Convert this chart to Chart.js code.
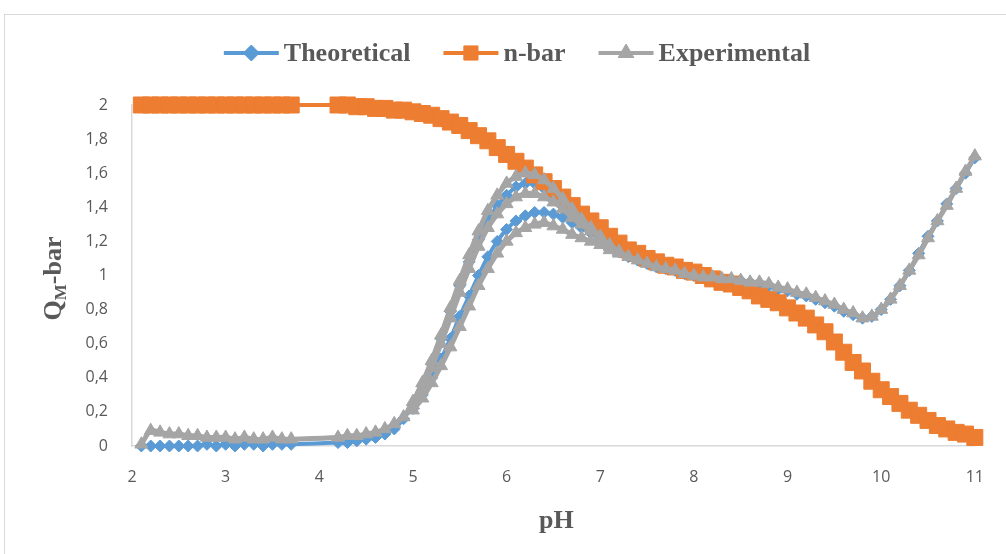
<!DOCTYPE html>
<html>
<head>
<meta charset="utf-8">
<script src="https://cdn.jsdelivr.net/npm/chart.js@4.4.1/dist/chart.umd.min.js"></script>
<style>
    html, body { margin: 0; padding: 0; background: #fff; overflow: hidden; }
    #wrap { width: 1006px; height: 554px; }
</style>
</head>
<body>
<div id="wrap"><canvas id="qmChart" width="1006" height="554"></canvas></div>
<script>
// pH values of the main run
const phMain = [
    2.1, 2.2, 2.3, 2.4, 2.5, 2.6, 2.7, 2.8, 2.9, 3.0, 3.1, 3.2, 3.3, 3.4, 3.5, 3.6, 3.7,
    4.2, 4.3, 4.4, 4.5, 4.6, 4.7, 4.8, 4.9,
    5.0, 5.1, 5.2, 5.3, 5.4, 5.5, 5.6, 5.7, 5.8, 5.9,
    6.0, 6.1, 6.2, 6.3, 6.4, 6.5, 6.6, 6.7, 6.8, 6.9,
    7.0, 7.1, 7.2, 7.3, 7.4, 7.5, 7.6, 7.7, 7.8, 7.9,
    8.0, 8.1, 8.2, 8.3, 8.4, 8.5, 8.6, 8.7, 8.8, 8.9,
    9.0, 9.1, 9.2, 9.3, 9.4, 9.5, 9.6, 9.7, 9.8, 9.9,
    10.0, 10.1, 10.2, 10.3, 10.4, 10.5, 10.6, 10.7, 10.8, 10.9,
    11.0
];

const theoretical = [
    0.00, 0.00, 0.00, 0.00, 0.00, 0.00, 0.00, 0.01, 0.00, 0.01, 0.00, 0.01, 0.01, 0.00, 0.01, 0.01, 0.01,
    0.02, 0.02, 0.03, 0.04, 0.05, 0.07, 0.10, 0.16,
    0.24, 0.35, 0.48, 0.63, 0.79, 0.94, 1.08, 1.21, 1.32, 1.41,
    1.47, 1.52, 1.54, 1.54, 1.51, 1.47, 1.42, 1.36, 1.31, 1.26,
    1.22, 1.17, 1.14, 1.11, 1.09, 1.07, 1.05, 1.04, 1.03, 1.01,
    1.00, 0.99, 0.99, 0.98, 0.97, 0.97, 0.96, 0.95, 0.94, 0.92,
    0.91, 0.89, 0.88, 0.86, 0.84, 0.82, 0.79, 0.77, 0.75, 0.76,
    0.80, 0.86, 0.94, 1.03, 1.13, 1.23, 1.32, 1.42, 1.51, 1.60,
    1.69
];

const nBar = [
    2.00, 2.00, 2.00, 2.00, 2.00, 2.00, 2.00, 2.00, 2.00, 2.00, 2.00, 2.00, 2.00, 2.00, 2.00, 2.00, 2.00,
    2.00, 2.00, 1.99, 1.99, 1.98, 1.98, 1.97, 1.97,
    1.96, 1.95, 1.94, 1.92, 1.90, 1.88, 1.85, 1.82, 1.79, 1.75,
    1.71, 1.67, 1.63, 1.59, 1.55, 1.51, 1.46, 1.41, 1.36, 1.32,
    1.28, 1.23, 1.19, 1.15, 1.13, 1.10, 1.08, 1.06, 1.05, 1.03,
    1.02, 1.00, 0.98, 0.96, 0.95, 0.93, 0.91, 0.88, 0.86, 0.84,
    0.81, 0.78, 0.75, 0.71, 0.67, 0.61, 0.55, 0.49, 0.44, 0.38,
    0.33, 0.29, 0.25, 0.21, 0.18, 0.15, 0.12, 0.10, 0.08, 0.07,
    0.05
];

const experimental = [
    0.01, 0.09, 0.08, 0.07, 0.07, 0.06, 0.06, 0.05, 0.05, 0.05, 0.04, 0.05, 0.04, 0.04, 0.05, 0.04, 0.04,
    0.05, 0.06, 0.06, 0.07, 0.08, 0.10, 0.13, 0.17,
    0.26, 0.37, 0.50, 0.65, 0.81, 0.97, 1.12, 1.26, 1.38, 1.47,
    1.54, 1.58, 1.60, 1.59, 1.56, 1.51, 1.45, 1.39, 1.33, 1.28,
    1.23, 1.18, 1.14, 1.11, 1.09, 1.07, 1.05, 1.04, 1.03, 1.01,
    1.00, 0.99, 0.99, 0.98, 0.98, 0.97, 0.96, 0.96, 0.95, 0.93,
    0.92, 0.90, 0.89, 0.87, 0.85, 0.83, 0.80, 0.78, 0.75, 0.76,
    0.80, 0.86, 0.94, 1.03, 1.12, 1.22, 1.32, 1.41, 1.51, 1.61,
    1.70
];

// second passes through the complexation hump
const phHump = [
    5.0, 5.1, 5.2, 5.3, 5.4, 5.5, 5.6, 5.7, 5.8, 5.9,
    6.0, 6.1, 6.2, 6.3, 6.4, 6.5, 6.6, 6.7, 6.8, 6.9,
    7.0, 7.1, 7.2
];
const theoreticalLow = [
    0.22, 0.30, 0.40, 0.51, 0.63, 0.76, 0.88, 1.00, 1.11, 1.20,
    1.27, 1.32, 1.35, 1.37, 1.37, 1.36, 1.34, 1.31, 1.28, 1.25,
    1.21, 1.17, 1.14
];
const experimentalMid = [
    0.24, 0.34, 0.46, 0.60, 0.75, 0.90, 1.04, 1.17, 1.28, 1.36,
    1.42, 1.46, 1.48, 1.48, 1.46, 1.43, 1.39, 1.34, 1.30, 1.26,
    1.22, 1.17, 1.14
];
const experimentalLow = [
    0.21, 0.28, 0.37, 0.47, 0.58, 0.70, 0.82, 0.94, 1.04, 1.13,
    1.20, 1.25, 1.28, 1.30, 1.31, 1.29, 1.27, 1.24, 1.22, 1.20,
    1.18, 1.15, 1.13
];

const seriesLabels = ['Theoretical', 'n-bar', 'Experimental'];
const xTitle = 'pH';

const BLUE = '#5B9BD5';
const ORANGE = '#ED7D31';
const GRAY = '#A5A5A5';
const TEXT = '#595959';
const SERIF = '"Liberation Serif", "Times New Roman", serif';

function toPoints(xs, ys) {
    return xs.map((x, i) => ({ x: x, y: ys[i] }));
}
const gap = { x: null, y: null };

function formatTick(v) {
    return String(Number(v.toFixed(1))).replace('.', ',');
}

const legendItems = [
    { text: seriesLabels[0], color: BLUE, style: 'rectRot', radius: 8 },
    { text: seriesLabels[1], color: ORANGE, style: 'rect', radius: 10 },
    { text: seriesLabels[2], color: GRAY, style: 'triangle', radius: 9 }
];

const frame = {
    id: 'frame',
    beforeDraw(chart) {
        const ctx = chart.ctx;
        ctx.save();
        ctx.fillStyle = '#ffffff';
        ctx.fillRect(0, 0, chart.width, chart.height);
        ctx.strokeStyle = '#d9d9d9';
        ctx.lineWidth = 1;
        ctx.strokeRect(4.5, 14.5, 1020, 560);
        ctx.restore();
    }
};

const customLegend = {
    id: 'customLegend',
    afterDraw(chart) {
        const ctx = chart.ctx;
        const lineLen = 55, textGap = 5, itemGap = 33, cy = 53, centerX = 517;
        ctx.save();
        ctx.font = 'bold 26px ' + SERIF;
        const widths = legendItems.map(it => ctx.measureText(it.text).width);
        let total = 0;
        widths.forEach((w, i) => { total += lineLen + textGap + w + (i < widths.length - 1 ? itemGap : 0); });
        let x = centerX - total / 2;
        legendItems.forEach((it, i) => {
            ctx.strokeStyle = it.color;
            ctx.fillStyle = it.color;
            ctx.lineWidth = 4;
            ctx.beginPath();
            ctx.moveTo(x, cy);
            ctx.lineTo(x + lineLen, cy);
            ctx.stroke();
            ctx.lineWidth = 1;
            Chart.helpers.drawPoint(ctx, { pointStyle: it.style, radius: it.radius, rotation: 0, borderWidth: 1 }, x + lineLen / 2, cy);
            ctx.fillStyle = TEXT;
            ctx.textAlign = 'left';
            ctx.textBaseline = 'middle';
            ctx.fillText(it.text, x + lineLen + textGap, cy + 1);
            x += lineLen + textGap + widths[i] + itemGap;
        });
        ctx.restore();
    }
};

const axisTitles = {
    id: 'axisTitles',
    afterDraw(chart) {
        const ctx = chart.ctx;
        const area = chart.chartArea;
        ctx.save();
        ctx.fillStyle = TEXT;
        ctx.font = 'bold 26px ' + SERIF;
        ctx.textAlign = 'center';
        ctx.textBaseline = 'middle';
        ctx.fillText(xTitle, (area.left + area.right) / 2 + 3, 521);

        // Q with subscript M, rotated
        ctx.translate(52, (area.top + area.bottom) / 2 + 3);
        ctx.rotate(-Math.PI / 2);
        ctx.textAlign = 'left';
        ctx.textBaseline = 'alphabetic';
        const big = 'bold 26px ' + SERIF;
        const small = 'bold 17px ' + SERIF;
        ctx.font = big;
        const wQ = ctx.measureText('Q').width;
        const wRest = ctx.measureText('-bar').width;
        ctx.font = small;
        const wM = ctx.measureText('M').width;
        let x = -(wQ + wM + wRest) / 2;
        const base = 9;
        ctx.font = big;
        ctx.fillText('Q', x, base);
        x += wQ;
        ctx.font = small;
        ctx.fillText('M', x, base + 5);
        x += wM;
        ctx.font = big;
        ctx.fillText('-bar', x, base);
        ctx.restore();
    }
};

function makeSeries(label, data, color, style, radius, lineWidth, order) {
    return {
        label: label,
        data: data,
        showLine: true,
        borderColor: color,
        backgroundColor: color,
        borderWidth: lineWidth,
        pointStyle: style,
        pointRadius: radius,
        pointHoverRadius: radius,
        pointBorderColor: color,
        pointBackgroundColor: color,
        pointBorderWidth: 1,
        tension: 0.3,
        spanGaps: false,
        clip: false,
        order: order
    };
}

Chart.defaults.font.family = '"Open Sans", sans-serif';

const ctx = document.getElementById('qmChart').getContext('2d');
new Chart(ctx, {
    type: 'scatter',
    data: {
        datasets: [
            makeSeries(seriesLabels[0],
                [...toPoints(phMain, theoretical), gap, ...toPoints(phHump, theoreticalLow)],
                BLUE, 'rectRot', 6, 4, 3),
            makeSeries(seriesLabels[1], toPoints(phMain, nBar), ORANGE, 'rect', 11.3, 4, 2),
            makeSeries(seriesLabels[2],
                [...toPoints(phMain, experimental), gap, ...toPoints(phHump, experimentalMid), gap, ...toPoints(phHump, experimentalLow)],
                GRAY, 'triangle', 7.5, 5, 1)
        ]
    },
    options: {
        responsive: false,
        animation: false,
        devicePixelRatio: 1,
        layout: { padding: { left: 0, right: 29, top: 105, bottom: 0 } },
        scales: {
            x: {
                type: 'linear',
                min: 2,
                max: 11,
                afterFit: scale => { scale.height = 108; },
                grid: { display: false, drawTicks: false },
                border: { display: true, color: '#d9d9d9', width: 1.5 },
                ticks: {
                    stepSize: 1,
                    padding: 22,
                    color: TEXT,
                    font: { size: 16 },
                    callback: v => formatTick(v)
                }
            },
            y: {
                min: 0,
                max: 2,
                afterFit: scale => { scale.width = 132; },
                grid: { display: false, drawTicks: false },
                border: { display: true, color: '#d9d9d9', width: 1.5 },
                ticks: {
                    stepSize: 0.2,
                    padding: 24,
                    color: TEXT,
                    font: { size: 16 },
                    callback: v => formatTick(v)
                }
            }
        },
        plugins: {
            legend: { display: false },
            tooltip: { enabled: false }
        }
    },
    plugins: [frame, customLegend, axisTitles]
});
</script>
</body>
</html>
